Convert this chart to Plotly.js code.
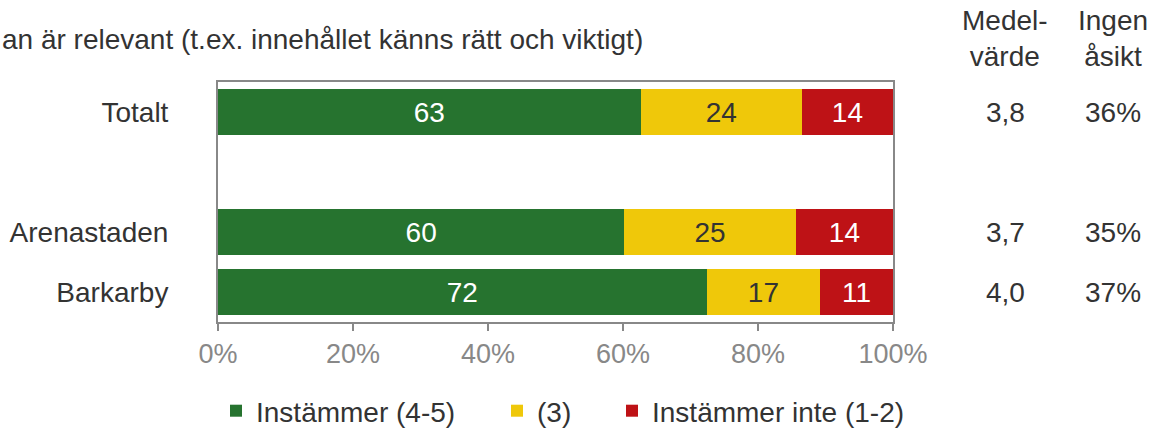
<!DOCTYPE html>
<html>
<head>
<meta charset="utf-8">
<script src="https://cdn.plot.ly/plotly-3.0.1.min.js"></script>
<style>html,body{margin:0;padding:0;background:#fff;}#chart{width:1149px;height:428px;}</style>
</head>
<body>
<div id="chart"></div>
<script>
// Data
const categories = ["Totalt", " ", "Arenastaden", "Barkarby"];
const agree = [62.6, null, 60.2, 72.4];
const neutral = [23.9, null, 25.4, 16.8];
const disagree = [13.5, null, 14.4, 10.8];
const agreeLabels = ["63", "", "60", "72"];
const neutralLabels = ["24", "", "25", "17"];
const disagreeLabels = ["14", "", "14", "11"];
const meanValues = ["3,8", "", "3,7", "4,0"];
const noOpinion = ["36%", "", "35%", "37%"];
const seriesNames = ["Instämmer (4-5)", "(3)", "Instämmer inte (1-2)"];
const xTicks = [0, 20, 40, 60, 80, 100];
const xTickLabels = ["0%", "20%", "40%", "60%", "80%", "100%"];
const titleText = "an är relevant (t.ex. innehållet känns rätt och viktigt)";

const FONT = "Liberation Sans, Arial, sans-serif";
const colors = ["#26732F", "#EFC80A", "#BE1216"];
const textColors = ["#ffffff", "#333333", "#ffffff"];
const vals = [agree, neutral, disagree];
const labs = [agreeLabels, neutralLabels, disagreeLabels];
const legendIds = ["legend", "legend2", "legend3"];

const traces = vals.map((v, i) => ({
  type: "bar",
  orientation: "h",
  y: categories,
  x: v,
  name: seriesNames[i],
  text: labs[i],
  textposition: "inside",
  insidetextanchor: "middle",
  textangle: 0,
  constraintext: "none",
  textfont: {family: FONT, size: 28, color: textColors[i]},
  marker: {color: colors[i], line: {width: 0}},
  legend: legendIds[i],
  hoverinfo: "skip"
}));

const annotations = [
  {text: titleText, xref: "paper", yref: "paper", x: -218/675, y: 1.175, xanchor: "left", yanchor: "middle", showarrow: false, font: {family: FONT, size: 28, color: "#333333"}},
  {text: "Medel-<br>värde", xref: "paper", yref: "paper", x: (1005-218)/675, y: 1.181, xanchor: "center", yanchor: "middle", showarrow: false, font: {family: FONT, size: 28, color: "#333333"}},
  {text: "Ingen<br>åsikt", xref: "paper", yref: "paper", x: (1113-218)/675, y: 1.181, xanchor: "center", yanchor: "middle", showarrow: false, font: {family: FONT, size: 28, color: "#333333"}}
];
categories.forEach((c, i) => {
  if (meanValues[i]) {
    annotations.push({text: meanValues[i], xref: "paper", yref: "y", x: (1005-218)/675, y: i, xanchor: "center", yanchor: "middle", showarrow: false, font: {family: FONT, size: 28, color: "#333333"}});
    annotations.push({text: noOpinion[i], xref: "paper", yref: "y", x: (1113-218)/675, y: i, xanchor: "center", yanchor: "middle", showarrow: false, font: {family: FONT, size: 28, color: "#333333"}});
  }
});

const legendBase = {orientation: "h", xref: "container", yref: "container", yanchor: "middle", y: 17/428, bgcolor: "rgba(0,0,0,0)", font: {family: FONT, size: 28, color: "#333333"}, itemclick: false, itemdoubleclick: false};

const layout = {
  width: 1149, height: 428,
  margin: {l: 218, r: 256, t: 82, b: 106, pad: 0},
  paper_bgcolor: "#ffffff", plot_bgcolor: "#ffffff",
  barmode: "stack",
  bargap: 0.22,
  font: {family: FONT, size: 28, color: "#333333"},
  xaxis: {
    range: [0, 100], tickmode: "array", tickvals: xTicks, ticktext: xTickLabels,
    showgrid: false, zeroline: false,
    showline: true, mirror: true, linecolor: "#888888", linewidth: 2,
    ticks: "outside", ticklen: 7, tickwidth: 2, tickcolor: "#888888",
    tickfont: {family: FONT, size: 27, color: "#888888"},
    fixedrange: true
  },
  yaxis: {
    type: "category", categoryorder: "array", categoryarray: categories,
    range: [3.5, -0.5],
    showgrid: false, zeroline: false,
    showline: true, mirror: true, linecolor: "#888888", linewidth: 2,
    ticks: "", ticklabelstandoff: 42,
    tickfont: {family: FONT, size: 28, color: "#333333"},
    fixedrange: true
  },
  showlegend: true,
  legend: Object.assign({}, legendBase, {x: 216/1149}),
  legend2: Object.assign({}, legendBase, {x: 497/1149}),
  legend3: Object.assign({}, legendBase, {x: 612/1149}),
  annotations: annotations
};

Plotly.newPlot("chart", traces, layout, {displayModeBar: false, staticPlot: true});
</script>
</body>
</html>
